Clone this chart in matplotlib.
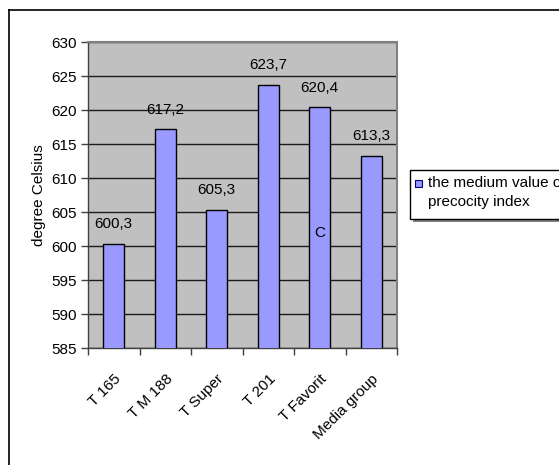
import numpy as np
import matplotlib.pyplot as plt
from matplotlib.patches import Rectangle
from matplotlib.lines import Line2D

# data
varieties = ['T 165', 'T M 188', 'T Super', 'T 201', 'T Favorit', 'Media group']
medium_value = [600.3, 617.2, 605.3, 623.7, 620.4, 613.3]
legend_label = 'the medium value of\nprecocity index'
y_ticks = np.arange(585, 631, 5)

plt.rcParams['font.family'] = ['Liberation Sans', 'DejaVu Sans']
plt.rcParams['font.size'] = 11

W, H = 559, 465
fig = plt.figure(figsize=(W / 100, H / 100), dpi=100)

# chart border (top and left edge only, rest runs off the canvas)
fig.add_artist(Line2D([9 / W, 1.0], [1 - 10 / H, 1 - 10 / H], color='black', lw=1.2))
fig.add_artist(Line2D([9 / W, 9 / W], [0.0, 1 - 10 / H], color='black', lw=1.2))

ax = fig.add_axes([88 / W, (H - 348) / H, 309 / W, 306 / H])
ax.set_facecolor('#C0C0C0')

x = np.arange(len(varieties))
ax.bar(x, medium_value, width=0.41, color='#9999FF', edgecolor='black', lw=1.0, zorder=3)

# value labels with decimal comma
for xi, v in zip(x, medium_value):
    ax.annotate(f'{v:.1f}'.replace('.', ','), (xi, v), xytext=(0, 9),
                textcoords='offset points', ha='center', va='bottom', fontsize=11)

ax.text(4, 601.9, 'C', ha='center', va='center', fontsize=11, zorder=4)

ax.set_ylim(585, 630)
ax.set_xlim(-0.5, len(varieties) - 0.5)
ax.set_yticks(y_ticks)
ax.yaxis.grid(True, color='#1a1a1a', lw=1.0)
ax.set_axisbelow(True)
ax.tick_params(axis='y', length=5, width=1, color='#404040', pad=3, labelsize=11)

# category labels at centres, tick marks at category borders
ax.set_xticks(x)
ax.set_xticklabels(varieties, rotation=45, ha='right', va='top', rotation_mode='anchor')
ax.tick_params(axis='x', which='major', length=0, pad=17, labelsize=11)
ax.set_xticks(np.arange(-0.5, len(varieties), 1.0), minor=True)
ax.tick_params(axis='x', which='minor', length=5, width=1, color='#404040')

for side in ['top', 'right']:
    ax.spines[side].set_color('#808080')
    ax.spines[side].set_linewidth(1.5)
for side in ['left', 'bottom']:
    ax.spines[side].set_color('#404040')
    ax.spines[side].set_linewidth(1.0)

ax.set_ylabel('degree Celsius', fontsize=11)
ax.yaxis.set_label_coords(-0.135, 0.5)

# legend box with shadow
lx, ly, lw_, lh = 410, 170, 200, 49
fig.add_artist(Rectangle(((lx + 3) / W, 1 - (ly + lh + 3) / H), lw_ / W, lh / H,
                         transform=fig.transFigure, facecolor='#808080', edgecolor='none'))
fig.add_artist(Rectangle((lx / W, 1 - (ly + lh) / H), lw_ / W, lh / H,
                         transform=fig.transFigure, facecolor='white', edgecolor='black', lw=1.0))
fig.add_artist(Rectangle(((lx + 5) / W, 1 - 187 / H), 7 / W, 7 / H,
                         transform=fig.transFigure, facecolor='#9999FF', edgecolor='#000080', lw=0.8))
fig.text((lx + 18) / W, 1 - 176 / H, legend_label, ha='left', va='top',
         fontsize=11, linespacing=1.45)

fig.savefig('out.png', dpi=100)
